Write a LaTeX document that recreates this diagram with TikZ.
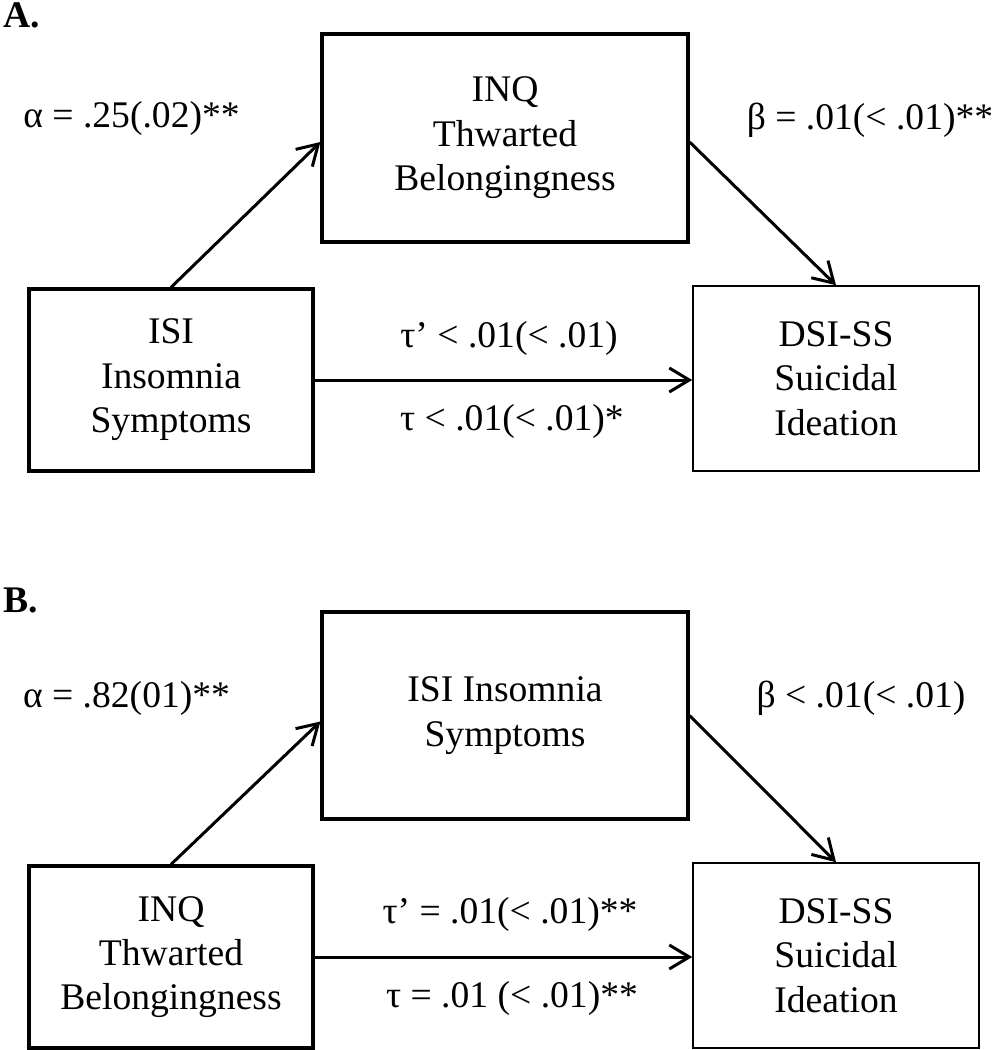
\documentclass[tikz,border=0pt]{standalone}
\usepackage{fontspec}
\setmainfont{Liberation Serif}
\usetikzlibrary{arrows.meta}
\usetikzlibrary{positioning}

\begin{document}
\begin{tikzpicture}[x=0.5pt,y=-0.5pt,
  font=\fontsize{18.8}{22.2}\selectfont,
  varbox/.style={draw, line width=1.6pt, align=center, inner sep=0pt,
    minimum width=142pt, minimum height=91pt},
  outbox/.style={draw, line width=0.8pt, align=center, inner sep=0pt,
    minimum width=143pt, minimum height=92.5pt},
  medbox/.style={varbox, minimum width=183pt, minimum height=104pt},
  effect/.style={line width=1.5pt, -{Straight Barb[length=10pt,width=12pt]}},
  coef/.style={anchor=base, inner sep=0pt}]
					\useasboundingbox (0,0) rectangle (995,1050);
					% panel A
					\node[anchor=base west, inner sep=0pt, font=\fontsize{18.8}{22.2}\selectfont\bfseries] (panelA) at (3,27) {A.};
					\node[medbox] (medA) at (505,138) {INQ\\Thwarted\\Belongingness};
					\node[varbox] (isiA) at (171,380) {ISI\\Insomnia\\Symptoms};
					\node[outbox] (dsiA) at (836,378.5) {DSI-SS\\Suicidal\\Ideation};
					
					\node[coef] (alphaA) at (131.5,127) {α = .25(.02)**};
					\node[coef] (betaA) at (870,129) {β = .01(< .01)**};
					\node[coef] (tauprA) at (509,347) {τ’ < .01(< .01)};
					\node[coef] (tauA) at (512,430) {τ < .01(< .01)*};
					
					\draw[effect] (isiA.north) -- ([yshift=-2pt]medA.west);
					\draw[effect] ([yshift=-2pt]medA.east) -- (dsiA.north);
					\draw[effect] (isiA.east) -- (isiA.east -| dsiA.west);
					
					% panel B
					\node[anchor=base west, inner sep=0pt, font=\fontsize{18.8}{22.2}\selectfont\bfseries] (panelB) at (3,612) {B.};
					\node[medbox, minimum height=103.5pt] (medB) at (505,715.5) {ISI Insomnia\\Symptoms};
					\node[varbox] (inqB) at (171,957) {INQ\\Thwarted\\Belongingness};
					\node[outbox] (dsiB) at (836,955.5) {DSI-SS\\Suicidal\\Ideation};
					
					\node[coef] (alphaB) at (126.5,707) {α = .82(01)**};
					\node[coef] (betaB) at (861,707) {β < .01(< .01)};
					\node[coef] (tauprB) at (510,923) {τ’ = .01(< .01)**};
					\node[coef] (tauB) at (512,1007) {τ = .01 (< .01)**};
					
					\draw[effect] (inqB.north) -- ([yshift=-3pt]medB.west);
					\draw[effect] (medB.east) -- (dsiB.north);
					\draw[effect] (inqB.east) -- (inqB.east -| dsiB.west);
				\end{tikzpicture}
\end{document}
